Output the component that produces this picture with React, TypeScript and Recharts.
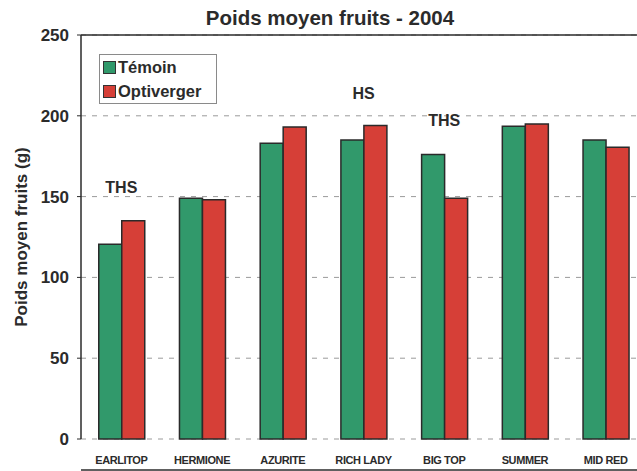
import React from "react";
import {
  BarChart,
  Bar,
  XAxis,
  YAxis,
  CartesianGrid,
  ReferenceLine,
  ReferenceDot,
} from "recharts";

const varieties = [
  "EARLITOP",
  "HERMIONE",
  "AZURITE",
  "RICH LADY",
  "BIG TOP",
  "SUMMER RICH",
  "MID RED",
];
const temoin = [120.5, 149, 183, 185, 176, 193.5, 185];
const optiverger = [135, 148, 193, 194, 149, 195, 180.5];
const yTicks = [0, 50, 100, 150, 200, 250];

const notes = [
  { variety: "EARLITOP", y: 156, text: "THS" },
  { variety: "RICH LADY", y: 214, text: "HS" },
  { variety: "BIG TOP", y: 197.5, text: "THS" },
];

const GREEN = "#31996b";
const RED = "#d63f37";
const INK = "#2b2b2b";
const FONT = "Arial, 'Liberation Sans', sans-serif";

const data = varieties.map((name, i) => ({
  name,
  temoin: temoin[i],
  optiverger: optiverger[i],
}));

function VarietyTick(props: any) {
  const { x, y, payload } = props;
  const words = String(payload.value).split(" ");
  const lines =
    payload.value === "SUMMER RICH" ? words : [String(payload.value)];
  return (
    <text
      x={x}
      y={y + 17}
      textAnchor="middle"
      fill={INK}
      fontFamily={FONT}
      fontWeight="bold"
      fontSize={11}
      letterSpacing={-0.4}
    >
      {lines.map((l, i) => (
        <tspan key={l} x={x} dy={i === 0 ? 0 : 16}>
          {l}
        </tspan>
      ))}
    </text>
  );
}

function Legend() {
  const rows = [
    { label: "Témoin", color: GREEN },
    { label: "Optiverger", color: RED },
  ];
  return (
    <div
      style={{
        position: "absolute",
        left: 99,
        top: 54,
        width: 116,
        height: 48,
        border: "1px solid #8a8a8a",
        background: "#fff",
        fontFamily: FONT,
        fontWeight: "bold",
        fontSize: 16.5,
        color: INK,
      }}
    >
      {rows.map((r) => (
        <div
          key={r.label}
          style={{ display: "flex", alignItems: "center", height: 23, marginLeft: 3, marginTop: 1 }}
        >
          <span
            style={{
              width: 11,
              height: 11,
              background: r.color,
              border: "1.5px solid #333",
              marginRight: 2,
              display: "inline-block",
            }}
          />
          {r.label}
        </div>
      ))}
    </div>
  );
}

export default function App() {
  return (
    <div
      style={{
        position: "fixed",
        left: 0,
        top: 0,
        width: 637,
        height: 471,
        overflow: "hidden",
        background: "#fff",
      }}
    >
      <div
        style={{
          position: "absolute",
          top: 6,
          left: 0,
          width: 660,
          textAlign: "center",
          fontFamily: FONT,
          fontWeight: "bold",
          fontSize: 20.5,
          color: INK,
        }}
      >
        Poids moyen fruits - 2004
      </div>
      <BarChart
        width={660}
        height={471}
        data={data}
        margin={{ top: 35, right: 14, bottom: 0, left: 1 }}
        barCategoryGap="22%"
        barGap={0}
      >
        <CartesianGrid
          horizontal
          vertical={false}
          stroke="#9a9a9a"
          strokeDasharray="5 6"
        />
        <XAxis
          xAxisId="edges"
          type="number"
          dataKey="none"
          domain={[0, 7]}
          ticks={[0, 1, 2, 3, 4, 5, 6, 7]}
          tick={false}
          axisLine={{ stroke: INK, strokeWidth: 1.5 }}
          tickLine={{ stroke: INK }}
          tickSize={5}
          height={1}
        />
        <XAxis
          dataKey="name"
          interval={0}
          axisLine={false}
          tickLine={false}
          tick={<VarietyTick />}
          height={31}
        />
        <YAxis
          domain={[0, 250]}
          ticks={yTicks}
          width={80}
          axisLine={{ stroke: INK, strokeWidth: 1.5 }}
          tickLine={{ stroke: INK }}
          tickSize={4}
          tickMargin={8}
          tick={{ fill: INK, fontFamily: FONT, fontWeight: "bold", fontSize: 17 }}
          label={{
            value: "Poids moyen fruits (g)",
            angle: -90,
            position: "insideLeft",
            offset: 20,
            style: {
              textAnchor: "middle",
              fill: INK,
              fontFamily: FONT,
              fontWeight: "bold",
              fontSize: 17,
            },
          }}
        />
        <ReferenceLine y={250} stroke={INK} strokeWidth={1.5} />
        <Bar
          dataKey="temoin"
          fill={GREEN}
          stroke="#2a2a2a"
          strokeWidth={1.5}
          isAnimationActive={false}
        />
        <Bar
          dataKey="optiverger"
          fill={RED}
          stroke="#2a2a2a"
          strokeWidth={1.5}
          isAnimationActive={false}
        />
        {notes.map((n) => (
          <ReferenceDot
            key={n.variety}
            x={n.variety}
            y={n.y}
            r={0}
            stroke="none"
            label={{
              value: n.text,
              position: "center",
              fill: INK,
              fontFamily: FONT,
              fontWeight: "bold",
              fontSize: 16,
            }}
          />
        ))}
      </BarChart>
      <Legend />
    </div>
  );
}
